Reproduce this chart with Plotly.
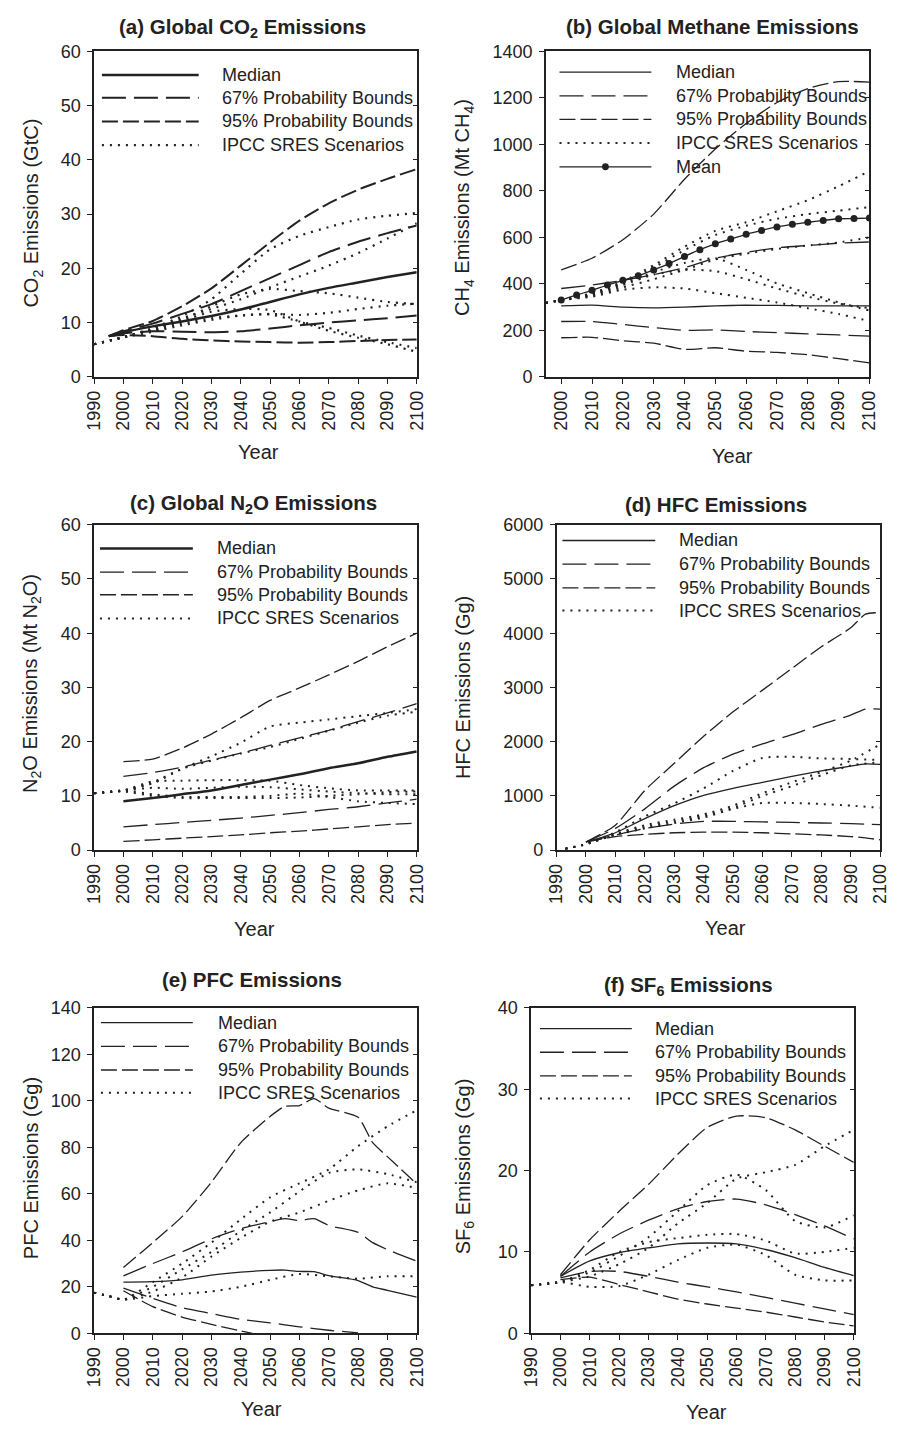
import plotly.graph_objects as go

# ---------------- DATA ----------------
# (a) CO2 (GtC)
co2_bound_years = [1995, 2000, 2010, 2020, 2030, 2040, 2050, 2060, 2070, 2080, 2090, 2100]
co2_median = [7.5, 8.2, 9.3, 10.2, 11.2, 12.4, 13.8, 15.2, 16.4, 17.4, 18.4, 19.3]
co2_p67_hi = [7.5, 8.4, 9.8, 11.6, 13.4, 15.8, 18.2, 20.6, 23.0, 24.9, 26.5, 27.9]
co2_p67_lo = [7.5, 8.0, 8.4, 8.3, 8.2, 8.4, 8.9, 9.5, 10.0, 10.4, 10.8, 11.3]
co2_p95_hi = [7.5, 8.6, 10.3, 13.0, 16.3, 20.5, 24.8, 28.8, 32.0, 34.5, 36.5, 38.3]
co2_p95_lo = [7.5, 7.7, 7.5, 7.0, 6.7, 6.5, 6.4, 6.3, 6.4, 6.6, 6.8, 6.9]
co2_sres_years = [1990, 2000, 2010, 2020, 2030, 2040, 2050, 2060, 2070, 2080, 2090, 2100]
co2_sres_1 = [6.0, 7.3, 9.0, 11.2, 14.3, 19.0, 23.5, 26.0, 27.6, 29.0, 29.7, 30.2]
co2_sres_2 = [6.0, 7.3, 8.8, 10.8, 12.5, 14.3, 16.5, 18.5, 20.5, 22.8, 25.5, 28.3]
co2_sres_3 = [6.0, 7.3, 8.7, 10.5, 13.0, 15.2, 16.2, 15.8, 15.4, 14.6, 13.8, 13.4]
co2_sres_4 = [6.0, 7.3, 8.5, 9.8, 10.8, 11.3, 11.6, 11.4, 11.8, 12.5, 13.1, 13.5]
co2_sres_5 = [6.0, 7.3, 8.3, 9.5, 10.5, 11.3, 11.5, 10.2, 9.0, 7.6, 6.4, 5.3]
co2_sres_6 = [6.0, 7.3, 8.6, 10.3, 12.0, 12.5, 12.3, 10.2, 8.5, 7.2, 6.0, 4.6]

# (b) CH4 (Mt CH4)
ch4_years = [2000, 2010, 2020, 2030, 2040, 2050, 2060, 2070, 2080, 2090, 2100]
ch4_median = [305, 308, 300, 297, 300, 305, 308, 307, 305, 305, 305]
ch4_p67_hi = [380, 395, 415, 440, 470, 510, 535, 555, 565, 575, 580]
ch4_p67_lo = [238, 238, 225, 212, 200, 202, 195, 190, 185, 180, 175]
ch4_p95_hi = [460, 510, 590, 700, 850, 980, 1090, 1180, 1240, 1270, 1268]
ch4_p95_lo = [168, 170, 155, 145, 118, 125, 110, 105, 95, 78, 60]
ch4_mean_years = [2000, 2005, 2010, 2015, 2020, 2025, 2030, 2035, 2040, 2045, 2050,
                  2055, 2060, 2065, 2070, 2075, 2080, 2085, 2090, 2095, 2100]
ch4_mean = [330, 352, 372, 395, 415, 435, 460, 487, 518, 547, 572,
            593, 613, 630, 645, 656, 665, 673, 680, 681, 683]
ch4_sres_years = [1995, 2000, 2010, 2020, 2030, 2040, 2050, 2060, 2070, 2080, 2090, 2100]
ch4_sres_1 = [318, 330, 360, 410, 480, 560, 628, 665, 712, 760, 820, 885]
ch4_sres_2 = [318, 330, 358, 405, 470, 545, 610, 650, 680, 700, 715, 730]
ch4_sres_3 = [318, 330, 350, 385, 420, 460, 505, 530, 550, 565, 578, 600]
ch4_sres_4 = [318, 330, 355, 400, 450, 490, 510, 460, 402, 360, 320, 285]
ch4_sres_5 = [318, 330, 352, 395, 440, 460, 455, 420, 380, 345, 315, 295]
ch4_sres_6 = [318, 330, 345, 375, 385, 380, 360, 340, 320, 295, 270, 240]

# (c) N2O (Mt N2O)
n2o_years = [2000, 2010, 2020, 2030, 2040, 2050, 2060, 2070, 2080, 2090, 2100]
n2o_median = [9.0, 9.6, 10.3, 11.0, 12.0, 13.0, 14.0, 15.1, 16.0, 17.2, 18.2]
n2o_p67_hi = [13.6, 14.3, 15.3, 16.6, 17.9, 19.3, 20.7, 22.1, 23.7, 25.3, 27.0]
n2o_p67_lo = [4.3, 4.7, 5.1, 5.5, 5.9, 6.4, 6.9, 7.5, 8.0, 8.7, 9.4]
n2o_p95_hi = [16.3, 16.8, 18.8, 21.4, 24.4, 27.6, 29.9, 32.3, 34.8, 37.5, 40.0]
n2o_p95_lo = [1.6, 1.9, 2.2, 2.5, 2.8, 3.2, 3.5, 3.9, 4.3, 4.7, 5.0]
n2o_sres_years = [1990, 2000, 2010, 2020, 2030, 2040, 2050, 2060, 2070, 2080, 2090, 2100]
n2o_sres_1 = [10.5, 11.0, 12.3, 15.0, 17.3, 19.8, 22.8, 23.5, 24.1, 24.7, 25.3, 26.0]
n2o_sres_2 = [10.5, 11.0, 12.5, 15.0, 16.5, 17.8, 19.0, 20.5, 22.0, 23.5, 24.8, 25.5]
n2o_sres_3 = [10.5, 11.0, 12.7, 12.8, 12.9, 12.9, 12.8, 12.0, 11.4, 11.0, 11.0, 11.0]
n2o_sres_4 = [10.5, 11.0, 11.5, 11.3, 11.5, 11.7, 11.6, 11.2, 10.8, 10.5, 10.3, 10.3]
n2o_sres_5 = [10.5, 11.0, 10.3, 9.8, 9.8, 9.8, 10.0, 10.4, 9.8, 9.0, 8.7, 8.5]
n2o_sres_6 = [10.5, 10.8, 10.0, 9.6, 9.6, 9.6, 9.6, 9.7, 10.0, 10.3, 10.7, 10.8]

# (d) HFC (Gg)
hfc_years = [2000, 2010, 2020, 2030, 2040, 2050, 2060, 2070, 2080, 2090, 2095, 2100]
hfc_median = [150, 320, 580, 820, 1010, 1140, 1250, 1360, 1460, 1550, 1590, 1580]
hfc_p67_hi = [150, 400, 760, 1180, 1520, 1770, 1960, 2130, 2320, 2490, 2600, 2600]
hfc_p67_lo = [150, 280, 400, 480, 530, 530, 520, 510, 500, 490, 480, 470]
hfc_p95_hi = [150, 460, 1100, 1600, 2100, 2550, 2950, 3350, 3750, 4100, 4350, 4380]
hfc_p95_lo = [150, 250, 290, 320, 330, 330, 320, 300, 280, 250, 225, 190]
hfc_sres_years = [1993, 2000, 2010, 2020, 2030, 2040, 2050, 2060, 2070, 2080, 2090, 2100]
hfc_sres_1 = [25, 110, 330, 620, 860, 1140, 1460, 1700, 1720, 1690, 1680, 1660]
hfc_sres_2 = [25, 110, 300, 460, 560, 660, 820, 1050, 1250, 1440, 1650, 1950]
hfc_sres_3 = [25, 110, 290, 430, 530, 630, 780, 1000, 1180, 1380, 1560, 1620]
hfc_sres_4 = [25, 110, 280, 400, 500, 600, 760, 870, 870, 850, 820, 780]

# (e) PFC (Gg)
pfc_years = [2000, 2010, 2020, 2030, 2040, 2050, 2055, 2060, 2065, 2070, 2080, 2085, 2090, 2100]
pfc_median = [22.0, 22.2, 23.0, 25.0, 26.3, 27.1, 27.2, 26.6, 26.5, 24.8, 22.7, 20.0, 18.5, 15.6]
pfc_p67_hi = [24.7, 30.0, 35.0, 40.6, 45.0, 48.0, 49.3, 48.5, 49.3, 46.4, 43.4, 39.0, 36.0, 31.0]
pfc_p95_hi = [28.3, 39.0, 50.2, 65.0, 82.0, 93.3, 97.6, 98.0, 101.0, 96.9, 92.9, 82.0, 76.0, 64.3]
pfc_p67_lo_years = [2000, 2010, 2020, 2030, 2040, 2050, 2060, 2070, 2080]
pfc_p67_lo = [19.4, 15.0, 11.0, 8.5, 6.0, 4.5, 2.8, 1.3, 0.2]
pfc_p95_lo_years = [2000, 2010, 2020, 2030, 2040, 2044]
pfc_p95_lo = [18.3, 11.5, 7.0, 3.8, 1.0, 0.0]
pfc_sres_years = [1990, 1995, 2000, 2010, 2020, 2030, 2040, 2050, 2060, 2070, 2080, 2090, 2100]
pfc_sres_1 = [17.5, 16.0, 14.5, 22.0, 30.0, 39.0, 49.0, 58.5, 64.5, 70.5, 80.5, 89.0, 96.0]
pfc_sres_2 = [17.5, 16.0, 14.5, 20.0, 27.5, 35.0, 44.0, 52.0, 61.0, 69.0, 70.5, 68.5, 65.0]
pfc_sres_3 = [17.5, 16.0, 14.5, 18.0, 24.0, 33.0, 41.0, 48.0, 52.0, 57.0, 61.5, 64.5, 62.5]
pfc_sres_4 = [17.5, 16.0, 14.5, 16.0, 17.0, 18.0, 20.0, 23.0, 25.5, 24.5, 23.5, 24.5, 24.5]

# (f) SF6 (Gg)
sf6_years = [2000, 2010, 2020, 2030, 2040, 2050, 2060, 2070, 2080, 2090, 2100]
sf6_median = [7.0, 8.9, 9.9, 10.5, 11.0, 11.1, 11.0, 10.3, 9.3, 8.1, 7.1]
sf6_p67_hi = [7.0, 10.0, 12.2, 13.9, 15.3, 16.2, 16.5, 15.8, 14.6, 13.2, 11.6]
sf6_p67_lo = [6.8, 7.6, 7.6, 7.0, 6.3, 5.7, 5.1, 4.4, 3.7, 3.0, 2.3]
sf6_p95_hi = [7.2, 11.5, 15.0, 18.3, 22.0, 25.3, 26.7, 26.5, 25.0, 23.0, 21.0]
sf6_p95_lo = [6.6, 6.9, 6.0, 5.1, 4.2, 3.6, 3.1, 2.6, 2.0, 1.4, 0.9]
sf6_sres_years = [1990, 2000, 2010, 2020, 2030, 2040, 2050, 2060, 2070, 2080, 2090, 2100]
sf6_sres_1 = [5.9, 6.3, 7.0, 8.5, 10.5, 13.5, 16.0, 19.0, 19.8, 20.7, 23.0, 25.0]
sf6_sres_2 = [5.9, 6.3, 7.5, 9.5, 11.8, 15.0, 18.2, 19.5, 17.6, 13.8, 13.0, 14.5]
sf6_sres_3 = [5.9, 6.3, 7.8, 10.0, 11.2, 11.7, 12.1, 12.2, 11.4, 9.8, 10.0, 10.5]
sf6_sres_4 = [5.9, 6.3, 5.7, 5.8, 7.2, 9.0, 10.5, 10.9, 9.6, 7.2, 6.5, 6.5]

legend_labels = ["Median", "67% Probability Bounds", "95% Probability Bounds", "IPCC SRES Scenarios"]
year_ticks = [1990, 2000, 2010, 2020, 2030, 2040, 2050, 2060, 2070, 2080, 2090, 2100]

# ---------------- STYLE / LAYOUT ----------------
W, H = 898, 1434
INK = "#222222"
FONT = "Liberation Sans, Arial, Helvetica, sans-serif"
DASH = {"median": "solid", "p67": "24px,8px", "p95": "16px,5px", "sres": "2px,6px"}
SRES_W = 2.0

# plot boxes in pixels: left, right, top, bottom
BOX = {
    1: (86, 416, 42, 372),
    2: (548, 879, 42, 372),
    3: (86, 416, 522, 852),
    4: (559, 890, 522, 852),
    5: (86, 416, 1012, 1342),
    6: (533, 863, 1012, 1342),
}
XR = {1: [1990, 2100], 2: [1995, 2100], 3: [1990, 2100], 4: [1990, 2100], 5: [1990, 2100], 6: [1990, 2100]}
YR = {1: (60, 10), 2: (1400, 200), 3: (60, 10), 4: (6000, 1000), 5: (140, 20), 6: (40, 10)}

fig = go.Figure()


def px_x(p):
    return p / W


def px_y(p):
    return 1 - p / H


def axn(n):
    return "" if n == 1 else str(n)


def add(n, x, y, kind, width=1.3, markers=False):
    fig.add_trace(go.Scatter(
        x=x, y=y, mode="lines+markers" if markers else "lines",
        line=dict(color=INK, width=width, dash=DASH[kind], shape="spline", smoothing=0.6),
        marker=dict(size=7, color=INK),
        xaxis="x" + axn(n), yaxis="y" + axn(n),
        showlegend=False, hoverinfo="skip", cliponaxis=True))


# (a)
for s in [co2_sres_1, co2_sres_2, co2_sres_3, co2_sres_4, co2_sres_5, co2_sres_6]:
    add(1, co2_sres_years, s, "sres", 2.2)
for s in [co2_p95_hi, co2_p95_lo]:
    add(1, co2_bound_years, s, "p95", 2.0)
for s in [co2_p67_hi, co2_p67_lo]:
    add(1, co2_bound_years, s, "p67", 2.0)
add(1, co2_bound_years, co2_median, "median", 2.5)

# (b)
for s in [ch4_sres_1, ch4_sres_2, ch4_sres_3, ch4_sres_4, ch4_sres_5, ch4_sres_6]:
    add(2, ch4_sres_years, s, "sres", SRES_W)
for s in [ch4_p95_hi, ch4_p95_lo]:
    add(2, ch4_years, s, "p95")
for s in [ch4_p67_hi, ch4_p67_lo]:
    add(2, ch4_years, s, "p67")
add(2, ch4_years, ch4_median, "median")
add(2, ch4_mean_years, ch4_mean, "median", 1.3, markers=True)

# (c)
for s in [n2o_sres_1, n2o_sres_2, n2o_sres_3, n2o_sres_4, n2o_sres_5, n2o_sres_6]:
    add(3, n2o_sres_years, s, "sres", SRES_W)
for s in [n2o_p95_hi, n2o_p95_lo]:
    add(3, n2o_years, s, "p95")
for s in [n2o_p67_hi, n2o_p67_lo]:
    add(3, n2o_years, s, "p67")
add(3, n2o_years, n2o_median, "median", 2.5)

# (d)
for s in [hfc_sres_1, hfc_sres_2, hfc_sres_3, hfc_sres_4]:
    add(4, hfc_sres_years, s, "sres", SRES_W)
for s in [hfc_p95_hi, hfc_p95_lo]:
    add(4, hfc_years, s, "p95")
for s in [hfc_p67_hi, hfc_p67_lo]:
    add(4, hfc_years, s, "p67")
add(4, hfc_years, hfc_median, "median")

# (e)
for s in [pfc_sres_1, pfc_sres_2, pfc_sres_3, pfc_sres_4]:
    add(5, pfc_sres_years, s, "sres", SRES_W)
add(5, pfc_years, pfc_p95_hi, "p95")
add(5, pfc_p95_lo_years, pfc_p95_lo, "p95")
add(5, pfc_years, pfc_p67_hi, "p67")
add(5, pfc_p67_lo_years, pfc_p67_lo, "p67")
add(5, pfc_years, pfc_median, "median")

# (f)
for s in [sf6_sres_1, sf6_sres_2, sf6_sres_3, sf6_sres_4]:
    add(6, sf6_sres_years, s, "sres", SRES_W)
for s in [sf6_p95_hi, sf6_p95_lo]:
    add(6, sf6_years, s, "p95")
for s in [sf6_p67_hi, sf6_p67_lo]:
    add(6, sf6_years, s, "p67")
add(6, sf6_years, sf6_median, "median")

layout = dict(
    width=W, height=H, margin=dict(l=0, r=0, t=0, b=0),
    paper_bgcolor="white", plot_bgcolor="white",
    font=dict(family=FONT, color=INK, size=18),
    showlegend=False,
)

for n, (l, r, t, b) in BOX.items():
    xticks = [v for v in year_ticks if v >= XR[n][0]]
    ymax, ystep = YR[n]
    yticks = list(range(0, ymax + 1, ystep))
    layout["xaxis" + axn(n)] = dict(
        domain=[px_x(l), px_x(r)], range=XR[n], anchor="y" + axn(n),
        tickvals=xticks, ticktext=[str(v) for v in xticks], tickangle=-90,
        ticks="outside", ticklen=5, tickwidth=1.3, tickcolor=INK,
        showline=True, linecolor=INK, linewidth=1.5, mirror=True,
        showgrid=False, zeroline=False, tickfont=dict(size=18, color=INK))
    layout["yaxis" + axn(n)] = dict(
        domain=[px_y(b), px_y(t)], range=[0, ymax], anchor="x" + axn(n),
        tickvals=yticks, ticks="outside", ticklen=5, tickwidth=1.3, tickcolor=INK,
        ticklabelstandoff=3,
        showline=True, linecolor=INK, linewidth=1.5, mirror=True,
        showgrid=False, zeroline=False, tickfont=dict(size=18, color=INK))
    # inside ticks on the right side
    k = n + 6
    layout["yaxis" + str(k)] = dict(
        overlaying="y" + axn(n), side="right", anchor="x" + axn(n),
        range=[0, ymax], tickvals=yticks, ticks="inside", ticklen=4, tickwidth=1.3,
        tickcolor=INK, showticklabels=False, showline=False, showgrid=False, zeroline=False)
    fig.add_trace(go.Scatter(x=[None], y=[None], xaxis="x" + axn(n), yaxis="y" + str(k),
                             showlegend=False, hoverinfo="skip"))

fig.update_layout(**layout)

# ---------------- TITLES / LABELS ----------------
titles = [
    ("(a) Global CO<sub>2</sub> Emissions", 238, 18),
    ("(b) Global Methane Emissions", 719, 17),
    ("(c) Global N<sub>2</sub>O Emissions", 249, 501),
    ("(d) HFC Emissions", 722, 502),
    ("(e) PFC Emissions", 248, 983),
    ("(f) SF<sub>6</sub> Emissions", 694, 990),
]
for txt, x, y in titles:
    fig.add_annotation(text="<b>" + txt + "</b>", x=px_x(x), y=px_y(y), xref="paper", yref="paper",
                       showarrow=False, xanchor="center", yanchor="middle",
                       font=dict(size=20.5, family=FONT, color=INK))

ytitles = [
    ("CO<sub>2</sub> Emissions (GtC)", 23, 206),
    ("CH<sub>4</sub> Emissions (Mt CH<sub>4</sub>)", 464, 200),
    ("N<sub>2</sub>O Emissions (Mt N<sub>2</sub>O)", 22, 683),
    ("HFC Emissions (Gg)", 464, 687),
    ("PFC Emissions (Gg)", 21, 1175),
    ("SF<sub>6</sub> Emissions (Gg)", 465, 1173),
]
for txt, x, y in ytitles:
    fig.add_annotation(text=txt, x=px_x(x), y=px_y(y), xref="paper", yref="paper",
                       showarrow=False, xanchor="center", yanchor="middle", textangle=-90,
                       font=dict(size=20, family=FONT, color=INK))

xtitles = [(254, 448), (739, 452), (250, 932), (732, 931), (257, 1419), (712, 1422)]
for x, y in xtitles:
    fig.add_annotation(text="Year", x=px_x(x), y=px_y(y), xref="paper", yref="paper",
                       showarrow=False, xanchor="center", yanchor="middle",
                       font=dict(size=20, family=FONT, color=INK))

# ---------------- LEGENDS (drawn inside each panel) ----------------
legends = [
    (1, 8, 107, 129, [24, 47, 71, 95], [2.5, 2.0, 2.0, 2.2]),
    (2, 14, 108, 131, [21, 45, 69, 93], [1.3, 1.3, 1.3, SRES_W]),
    (3, 6, 101, 124, [24, 48, 71, 95], [2.5, 1.3, 1.3, SRES_W]),
    (4, 6, 101, 123, [16, 40, 64, 87], [1.3, 1.3, 1.3, SRES_W]),
    (5, 7, 101, 125, [15, 39, 63, 86], [1.3, 1.3, 1.3, SRES_W]),
    (6, 9, 103, 125, [21, 45, 69, 92], [1.3, 1.3, 1.3, SRES_W]),
]
kinds = ["median", "p67", "p95", "sres"]
for n, x0, x1, xt, rows, widths in legends:
    l, r, t, b = BOX[n]
    for kind, label, dy, w in zip(kinds, legend_labels, rows, widths):
        fig.add_shape(type="line", xref="paper", yref="paper",
                      x0=px_x(l + x0), x1=px_x(l + x1), y0=px_y(t + dy), y1=px_y(t + dy),
                      line=dict(color=INK, width=w, dash=DASH[kind]))
        fig.add_annotation(text=label, x=px_x(l + xt), y=px_y(t + dy), xref="paper", yref="paper",
                           showarrow=False, xanchor="left", yanchor="middle",
                           font=dict(size=18, family=FONT, color=INK))
    if n == 2:
        dy = 117
        fig.add_shape(type="line", xref="paper", yref="paper",
                      x0=px_x(l + x0), x1=px_x(l + x1), y0=px_y(t + dy), y1=px_y(t + dy),
                      line=dict(color=INK, width=1.3))
        cx = l + (x0 + x1) / 2
        fig.add_shape(type="circle", xref="paper", yref="paper",
                      x0=px_x(cx - 3.5), x1=px_x(cx + 3.5), y0=px_y(t + dy - 3.5), y1=px_y(t + dy + 3.5),
                      fillcolor=INK, line=dict(color=INK, width=0))
        fig.add_annotation(text="Mean", x=px_x(l + xt), y=px_y(t + dy), xref="paper", yref="paper",
                           showarrow=False, xanchor="left", yanchor="middle",
                           font=dict(size=18, family=FONT, color=INK))

fig.write_html("out.html",
               config={"displayModeBar": False},
               post_script="document.body.style.margin='0';document.body.style.padding='0';")
